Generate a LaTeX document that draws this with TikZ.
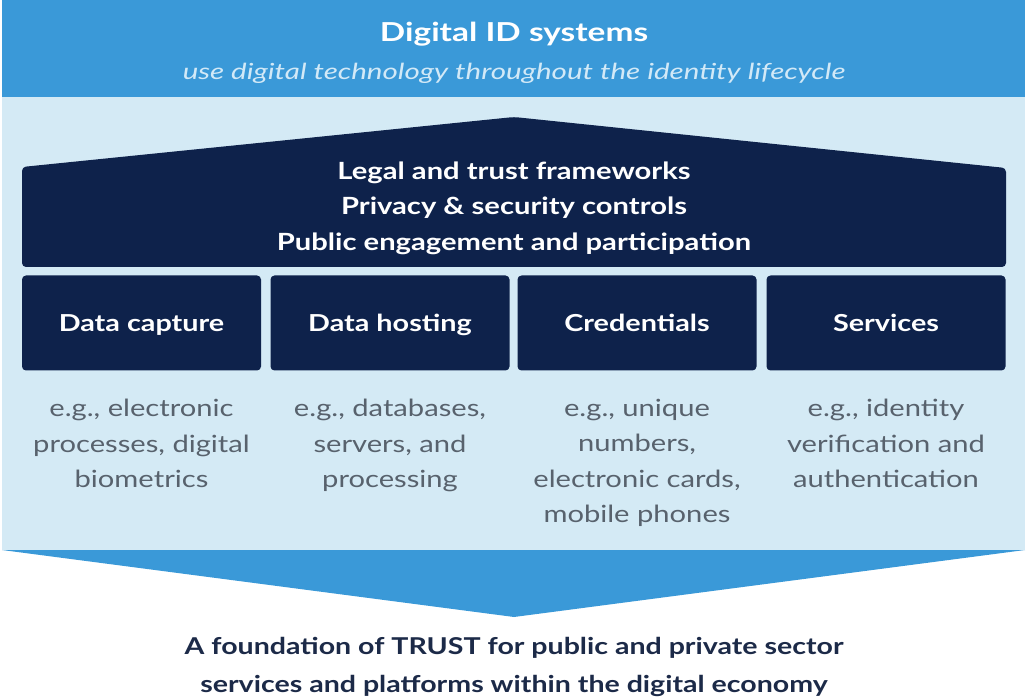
\documentclass[tikz,border=0pt]{standalone}
\usepackage{fontspec}
\setmainfont{Lato}[FakeStretch=1.23]
\newfontfamily\titlefont{Lato}[FakeStretch=1.28]
\newfontfamily\subfont{Lato}[FakeStretch=1.33]
\definecolor{bannerblue}{HTML}{3A99D8}
\definecolor{lightblue}{HTML}{D4EAF5}
\definecolor{navy}{HTML}{0E224B}
\definecolor{subtext}{HTML}{D2E9F7}
\definecolor{graytext}{HTML}{58626D}
\definecolor{darktext}{HTML}{1C2A48}
\tikzset{
  boxlabel/.style={fill=navy, rounded corners=4pt, minimum width=239pt, minimum height=95pt,
    inner sep=0pt, text height=17pt, text depth=0pt, text=white,
    font=\fontsize{23.4}{28}\selectfont\bfseries},
  example/.style={anchor=north, inner sep=0pt, align=center, text=graytext,
    font=\fontsize{23.7}{35.5}\selectfont},
}
\begin{document}
\begin{tikzpicture}[x=1pt,y=-1pt]
\useasboundingbox (0,0) rectangle (1028,700);
\fill[white] (0,0) rectangle (1028,700);
% banner and light area
\fill[bannerblue] (2,0) rectangle (1025,97);
\fill[lightblue] (2,97) rectangle (1025,550);
% chevron
\fill[bannerblue] (2,550) -- (1025,550) -- (514,617) -- cycle;
% house-shaped frame
\fill[navy, rounded corners=4pt] (22,267) -- (22,167) -- (514,117) -- (1006,168) -- (1006,267) -- cycle;

\node[text=white, font=\titlefont\fontsize{26.1}{30}\selectfont\bfseries] (title) at (514,34) {Digital ID systems};
\node[text=subtext, font=\subfont\fontsize{22.2}{26}\selectfont\itshape] (subtitle) at (514,73) {use digital technology throughout the identity lifecycle};

\node[text=white, align=center, font=\fontsize{23.7}{35.5}\selectfont\bfseries] (frame) at (514,208)
  {Legal and trust frameworks\\Privacy \& security controls\\Public engagement and participation};

\node[boxlabel] (capture) at (141.5,323) {Data capture};
\node[boxlabel] (hosting) at (390,323) {Data hosting};
\node[boxlabel] (cred) at (637,323) {Credentials};
\node[boxlabel] (serv) at (886,323) {Services};

\node[example] (ex1) at (141.5,399) {e.g., electronic\\processes, digital\\biometrics};
\node[example] (ex2) at (390,399) {e.g., databases,\\servers, and\\processing};
\node[example] (ex3) at (637,399) {e.g., unique\\numbers,\\electronic cards,\\mobile phones};
\node[example] (ex4) at (886,399) {e.g., identity\\verification and\\authentication};

\node[text=darktext, align=center, font=\fontsize{23.2}{38}\selectfont\bfseries] (found) at (514,667)
  {A foundation of TRUST for public and private sector\\services and platforms within the digital economy};
\end{tikzpicture}
\end{document}
